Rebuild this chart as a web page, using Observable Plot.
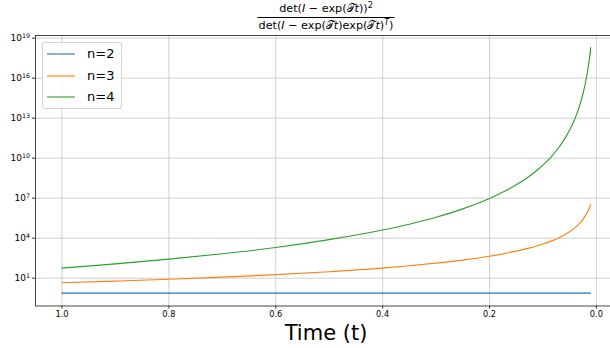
<!DOCTYPE html>
<html><head><meta charset="utf-8">
<script src="https://cdn.jsdelivr.net/npm/d3@7"></script>
<script src="https://cdn.jsdelivr.net/npm/@observablehq/plot@0.6"></script>
<style>
html,body{margin:0;padding:0;background:#fff;overflow:hidden;width:610px;height:348px;font-family:"DejaVu Sans",sans-serif;}
#wrap{position:relative;width:610px;height:348px;overflow:hidden;}
#title{position:absolute;left:326px;top:3px;transform:translateX(-50%);text-align:center;font-size:11.2px;line-height:12px;color:#000;white-space:nowrap;}
#title .num{padding:0 6px 2px 6px;}
#title .den{border-top:1px solid #000;padding:2px 1px 0 1px;}
#title i{font-style:italic;}
#title sup{font-size:0.72em;line-height:0;vertical-align:0.55em;}
#chart{position:absolute;left:0;top:30px;}
#xlabel{position:absolute;left:326px;top:323px;transform:translateX(-50%);font-size:21px;line-height:21px;white-space:nowrap;color:#000;}
#legend{position:absolute;left:42px;top:42px;width:78px;height:65px;border:1px solid rgba(204,204,204,0.85);border-radius:3px;background:rgba(255,255,255,0.8);}
#legend .row{position:absolute;left:0;height:14px;font-size:13px;line-height:14px;white-space:nowrap;color:#000;}
#legend .row svg{position:absolute;left:4px;top:5px;}
#legend .row span{position:absolute;left:44px;top:0;}
</style>
</head><body>
<div id="wrap">
  <div id="title">
    <div class="num">det(<i>I</i> − exp(𝒯<i>t</i>))<sup>2</sup></div>
    <div class="den">det(<i>I</i> − exp(𝒯<i>t</i>)exp(𝒯<i>t</i>)<sup><i>T</i></sup>)</div>
  </div>
  <div id="chart"></div>
  <div id="xlabel">Time (t)</div>
  <div id="legend"></div>
</div>
<script>
// ---- data ----
const seriesNames = ["n=2", "n=3", "n=4"];
const seriesColors = ["#1f77b4", "#ff7f0e", "#2ca02c"];

// n=2 : time values and log10 of the ratio
const tN2 = [1.0, 0.011];
const logN2 = [-0.125, -0.125];

// n=3
const tN3 = [1.0, 0.9, 0.8, 0.7, 0.6, 0.5, 0.4, 0.35, 0.3, 0.25, 0.2, 0.17, 0.15, 0.13, 0.11, 0.1, 0.085, 0.07, 0.06, 0.05, 0.042, 0.035, 0.03, 0.025, 0.021, 0.018, 0.0155, 0.0135, 0.012, 0.011];
const logN3 = [0.655, 0.78, 0.92, 1.08, 1.265, 1.487, 1.758, 1.93, 2.126, 2.36, 2.646, 2.861, 3.027, 3.217, 3.438, 3.564, 3.779, 4.036, 4.24, 4.482, 4.717, 4.963, 5.17, 5.416, 5.651, 5.858, 6.059, 6.245, 6.404, 6.52];

// n=4
const tN4 = [1.0, 0.9, 0.8, 0.7, 0.6, 0.5, 0.4, 0.35, 0.3, 0.25, 0.2, 0.17, 0.15, 0.13, 0.11, 0.1, 0.085, 0.07, 0.06, 0.05, 0.042, 0.035, 0.03, 0.025, 0.021, 0.018, 0.0155, 0.0135, 0.012, 0.0115, 0.0113, 0.011];
const logN4 = [1.75, 2.07, 2.43, 2.83, 3.30, 3.89, 4.61, 5.05, 5.57, 6.20, 6.97, 7.55, 8.00, 8.51, 9.13, 9.48, 10.08, 10.82, 11.41, 12.11, 12.79, 13.51, 14.11, 14.85, 15.55, 16.17, 16.77, 17.32, 17.8, 18.0, 17.75, 18.3];

const xTicks = [1.0, 0.8, 0.6, 0.4, 0.2, 0.0];
const yTickExponents = [1, 4, 7, 10, 13, 16, 19];

// ---- build table ----
const rows = [];
[[tN2, logN2], [tN3, logN3], [tN4, logN4]].forEach(([ts, ls], i) => {
  ts.forEach((t, j) => rows.push({t, y: 10 ** ls[j], n: seriesNames[i]}));
});
const yTicks = yTickExponents.map(e => 10 ** e);

const gridStyle = {stroke: "#b0b0b0", strokeOpacity: 0.75, strokeWidth: 0.8};

const plot = Plot.plot({
  width: 610,
  height: 290,
  marginLeft: 35,
  marginRight: -7,
  marginTop: 5,
  marginBottom: 14.5,
  style: {fontFamily: "DejaVu Sans", fontSize: "8.2px", background: "transparent", color: "#000"},
  x: {domain: [1.0495, -0.0395]},
  y: {type: "log", domain: [10 ** -1.085, 10 ** 19.2]},
  color: {domain: seriesNames, range: seriesColors},
  marks: [
    Plot.gridX(xTicks, gridStyle),
    Plot.gridY(yTicks, gridStyle),
    Plot.line(rows, {x: "t", y: "y", z: "n", stroke: "n", strokeWidth: 1.15, curve: "monotone-x"}),
    Plot.frame({stroke: "#333", strokeWidth: 0.9}),
    Plot.axisX({ticks: xTicks, tickSize: 3, tickPadding: 2.5, tickFormat: d => d.toFixed(1), label: null, stroke: "#333"}),
    Plot.axisY({ticks: yTicks, tickSize: 3, tickPadding: 2.5, fontSize: 9, tickFormat: d => String(Math.round(Math.log10(d))), label: null, stroke: "#333"})
  ]
});
document.getElementById("chart").appendChild(plot);

// superscript exponents on the y tick labels (10^k)
d3.select(plot).selectAll('g[aria-label="y-axis tick label"] text').each(function () {
  const e = this.textContent;
  const s = d3.select(this);
  s.text(null);
  s.append("tspan").text("10");
  s.append("tspan").attr("dy", "-0.5em").attr("font-size", "0.7em").text(e);
});

// legend
const legend = d3.select("#legend");
seriesNames.forEach((name, i) => {
  const row = legend.append("div").attr("class", "row").style("top", (4.3 + i * 21.4) + "px");
  const sv = row.append("svg").attr("width", 29).attr("height", 4);
  sv.append("line").attr("x1", 0).attr("x2", 28).attr("y1", 2).attr("y2", 2)
    .attr("stroke", seriesColors[i]).attr("stroke-width", 1.1);
  row.append("span").text(name);
});
</script>
</body></html>
